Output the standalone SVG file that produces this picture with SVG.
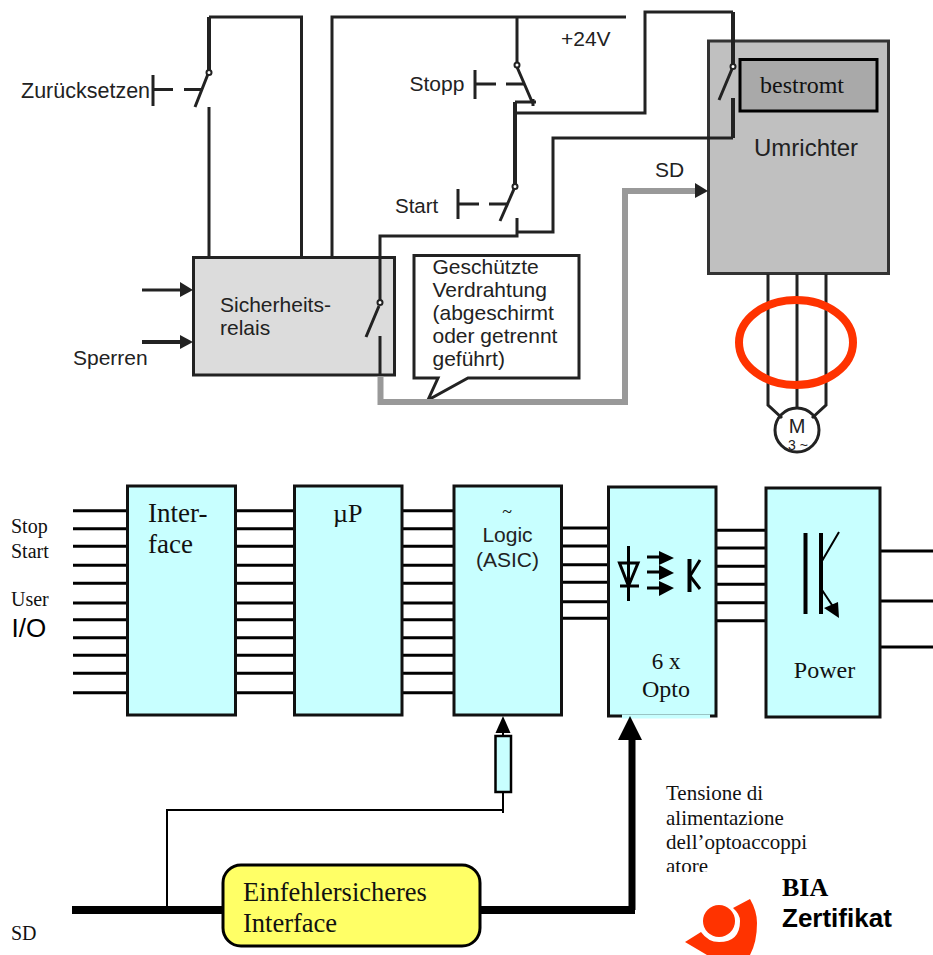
<svg xmlns="http://www.w3.org/2000/svg" width="933" height="955" viewBox="0 0 933 955">
<style>
.w{fill:none;stroke:#222;stroke-width:3}
.w2{fill:none;stroke:#222;stroke-width:4}
.k{fill:none;stroke:#000;stroke-width:3}
.t{fill:none;stroke:#000;stroke-width:2}
.box{fill:#c8ffff;stroke:#111;stroke-width:3}
.s{font-family:"Liberation Sans",Arial,sans-serif;fill:#222}
.r{font-family:"Liberation Serif","Times New Roman",serif;fill:#111}
.ah{fill:#222}
.bl{fill:#000}
.pin{fill:#fff;stroke:#222;stroke-width:2}
</style>
<defs><clipPath id="clipAtore"><rect x="660" y="780" width="170" height="92"/></clipPath></defs>
<rect width="933" height="955" fill="#fff"/>

<g id="relay"><rect x="193.500" y="257.500" width="201" height="117.500" fill="#dcdcdc" stroke="#222" stroke-width="3"/>
<text class="s" x="220" y="312" font-size="21">Sicherheits-</text><text class="s" x="220" y="335" font-size="21">relais</text></g>
<g id="inverter"><rect x="708.500" y="41" width="180" height="232.500" fill="#c0c0c0" stroke="#333" stroke-width="3"/>
<rect x="740" y="59.500" width="137" height="51.500" fill="#a9a9a9" stroke="#000" stroke-width="3"/>
<text class="r" x="802" y="93" font-size="24" text-anchor="middle">bestromt</text>
<text class="s" x="754" y="155.500" font-size="24">Umrichter</text></g>
<g id="callout"><path d="M414 255.500H579V378H468L428 400L438 378H414Z" fill="#fff" stroke="#222" stroke-width="3"/>
<text class="s" x="432.500" y="274" font-size="21">Geschützte</text><text class="s" x="432.500" y="297" font-size="21">Verdrahtung</text><text class="s" x="432.500" y="320" font-size="21">(abgeschirmt</text><text class="s" x="432.500" y="343" font-size="21">oder getrennt</text><text class="s" x="432.500" y="366" font-size="21">geführt)</text></g>
<g id="motor"><circle cx="797" cy="430" r="22" fill="#fff" stroke="#222" stroke-width="3"/>
<text class="s" x="797" y="433" font-size="20" text-anchor="middle">M</text><text class="s" x="798" y="450" font-size="14" text-anchor="middle">3 ~</text></g>

<g id="connectors-top">
<path class="w2" d="M209 72V17"/><path class="w" d="M209 17H301.500V257M209 107V257"/>
<path class="w" d="M332 257V17H626"/>
<path class="w" d="M153 75V106"/><path class="w" d="M153 89.500H173M184 89.500H203M208 74L195 107"/>
<path class="w" d="M517 17V63M517 67L533 104M515 102H536M533 99V106"/>
<path class="w" d="M475 70V99M475 84H496M506 84H524"/>
<path class="w2" d="M515 102V184"/>
<path class="w" d="M515 113H645V12H733"/><path class="w2" d="M733 12V64"/>
<path class="w" d="M514 189L500 221"/><path class="w" d="M458 189V219M458 204H479M489 204H507"/>
<path class="w" d="M517 218V236H380V301M517 232H553V138H733"/><path class="w2" d="M733 138V98"/>
<path class="w" d="M732 69L719 100M380 336V376M379 306L366 337"/>
<path d="M380.500 376V402H625V191H695" fill="none" stroke="#999" stroke-width="6"/>
<path class="ah" d="M695 183L708 191L695 198Z"/>
<path class="w" d="M142 290H180"/><path class="ah" d="M180 282L193 290L180 297Z"/>
<path class="w2" d="M142 342H180"/><path class="ah" d="M180 335L193 342L180 349Z"/>
<circle class="pin" cx="209" cy="72.500" r="2.500"/><circle class="pin" cx="517" cy="65" r="2.500"/><circle class="pin" cx="515" cy="186.500" r="2.500"/><circle class="pin" cx="733" cy="66.500" r="2.500"/><circle class="pin" cx="380" cy="302.500" r="2.500"/>
<path class="w" d="M768 274V405L782 418M826 274V405L812 418M797 274V408"/>
</g>
<ellipse id="ring" cx="796" cy="342.500" rx="57" ry="42.500" fill="none" stroke="#f30" stroke-width="8"/>

<g id="labels-top">
<text class="s" x="21" y="98" font-size="21.500">Zurücksetzen</text>
<text class="s" x="409.500" y="91" font-size="21">Stopp</text>
<text class="s" x="395" y="213" font-size="20.500">Start</text>
<text class="s" x="73" y="365" font-size="21">Sperren</text>
<text class="s" x="561" y="46" font-size="21">+24V</text>
<text class="s" x="655" y="177" font-size="21">SD</text>
</g>

<g id="connectors-bottom">
<path class="k" d="M73 510.700H127M73 528.700H127M73 546.300H127M73 565.300H127M73 583.300H127M73 603H127M73 619.700H127M73 637.700H127M73 655.300H127M73 673.300H127M73 692.700H127"/>
<path class="k" d="M236 510.700H294M236 528.700H294M236 546.300H294M236 565.300H294M236 583.300H294M236 603H294M236 619.700H294M236 637.700H294M236 655.300H294M236 673.300H294M236 692.700H294"/>
<path class="k" d="M402 510.700H453M402 528.700H453M402 546.300H453M402 565.300H453M402 583.300H453M402 603H453M402 619.700H453M402 637.700H453M402 655.300H453M402 673.300H453M402 692.700H453"/>
<path class="k" d="M561 528H608M561 546H608M561 564.700H608M561 582.300H608M561 601.700H608M561 618.300H608"/>
<path class="k" d="M716 530.300H766M716 548H766M716 566.300H766M716 584.300H766M716 602.700H766M716 620.700H766"/>
<path class="k" d="M880 551H933M880 601H933M880 647H933"/>
<path class="t" d="M503 733V736M503 792V813M503 810H167V908"/>
<path class="bl" d="M503 716L510.500 733H495.500Z"/>
<path d="M72 910H223M480 910H635" fill="none" stroke="#000" stroke-width="8"/>
<path d="M632 738V910" fill="none" stroke="#000" stroke-width="7"/>
</g>

<g id="interface"><rect class="box" x="127.500" y="486" width="108" height="229"/><text class="r" x="148" y="522" font-size="27">Inter-</text><text class="r" x="148" y="553" font-size="27">face</text></g>
<g id="up"><rect class="box" x="294.500" y="486" width="107.500" height="229"/><text class="r" x="333" y="522" font-size="26">µP</text></g>
<g id="logic"><rect class="box" x="454" y="486" width="107.500" height="229"/><text class="r" x="507" y="518" font-size="18" text-anchor="middle">~</text><text class="s" x="507.500" y="542" font-size="21" text-anchor="middle">Logic</text><text class="s" x="507.500" y="567" font-size="21" text-anchor="middle">(ASIC)</text></g>
<g id="opto"><rect class="box" x="608.500" y="487" width="107.500" height="229"/><path d="M622 716.500H710" stroke="#c8ffff" stroke-width="4"/><path class="bl" d="M630 716L642 740H618Z"/>
<text class="r" x="666" y="669" font-size="23" text-anchor="middle">6 x</text><text class="r" x="666" y="697" font-size="24" text-anchor="middle">Opto</text>
<path d="M628.500 546V601M620 586H639" fill="none" stroke="#000" stroke-width="3"/><path d="M619.500 563H638L628.500 586Z" fill="none" stroke="#000" stroke-width="3"/>
<path d="M647 557H660M647 572H660M647 588H660" fill="none" stroke="#000" stroke-width="3"/>
<path class="bl" d="M659 551L674 558L659 565ZM659 565L674 573L659 580ZM659 581L674 588L659 596Z"/>
<path d="M689.500 559V592" fill="none" stroke="#000" stroke-width="4"/><path d="M690 576L700 560M690 576L700 589" fill="none" stroke="#000" stroke-width="3"/></g>
<g id="power"><rect class="box" x="766" y="488" width="114" height="229"/>
<path d="M805.500 533V614M821 533V614" fill="none" stroke="#000" stroke-width="4"/><path d="M822 561L839 532M822 590L834 608" fill="none" stroke="#000" stroke-width="2"/><path class="bl" d="M839 618L824 608L838 602Z"/>
<text class="r" x="824.500" y="678" font-size="24" text-anchor="middle">Power</text></g>
<g id="resistor"><rect x="495.500" y="736" width="15.500" height="56" fill="#c8ffff" stroke="#000" stroke-width="2.500"/></g>
<g id="safe"><rect x="223" y="865" width="257" height="81" rx="18" fill="#ff6" stroke="#000" stroke-width="3"/><text class="r" x="243" y="901" font-size="26.500">Einfehlersicheres</text><text class="r" x="243" y="932" font-size="26.500">Interface</text></g>

<g id="labels-bottom">
<text class="r" x="11" y="533" font-size="20">Stop</text><text class="r" x="11" y="558" font-size="20">Start</text><text class="r" x="11" y="606" font-size="20">User</text>
<text class="s" x="11.500" y="637" font-size="26" style="fill:#000">I/O</text>
<text class="r" x="11" y="940" font-size="20">SD</text>
<g clip-path="url(#clipAtore)"><text class="r" x="666" y="800" font-size="21">Tensione di</text><text class="r" x="666" y="824.500" font-size="21">alimentazione</text><text class="r" x="666" y="849" font-size="21">dell’optoaccoppi</text><text class="r" x="666" y="873" font-size="21">atore</text></g>
</g>
<g id="logo"><circle cx="719" cy="921" r="16" fill="#f30"/><path d="M733 908L750 899Q757 911 757 923Q757 942 750 955H707L685 942L701 932Q708 942 719 942Q740 942 740 921Q740 914 733 908Z" fill="#f30"/>
<text class="r" x="782" y="896" font-size="26" font-weight="bold" style="fill:#000">BIA</text><text class="s" x="782" y="927" font-size="26" font-weight="bold" style="fill:#000">Zertifikat</text></g>
</svg>
